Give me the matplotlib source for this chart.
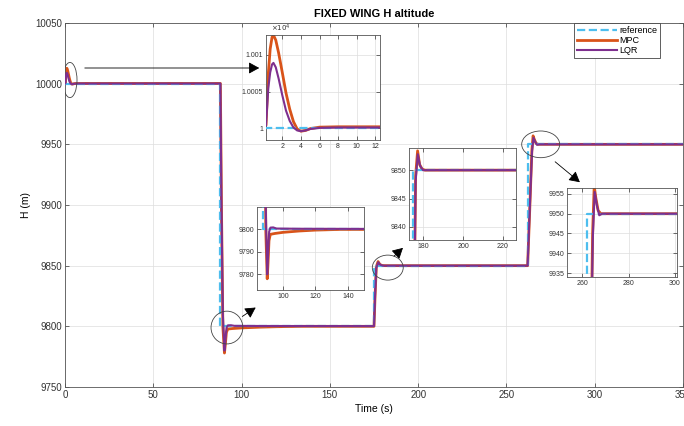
import matplotlib
matplotlib.use("Agg")
import matplotlib.pyplot as plt
from matplotlib.patches import Ellipse

plt.rcParams['font.family'] = ['Liberation Sans', 'DejaVu Sans']

# ---------------- data ----------------
ref_t = [0, 88, 88, 175, 175, 262, 262, 350]
ref_h = [10000, 10000, 9800, 9800, 9850, 9850, 9950, 9950]

mpc_t = [0, 0.25, 0.5, 0.7, 0.9, 1.05, 1.3, 1.6, 2.0, 2.4, 2.8, 3.2, 3.6, 4.0, 4.5, 5.0, 6.0, 8.0,
         88.0, 88.6, 89.4, 90.3, 90.8, 91.4, 92.2, 95, 100, 110, 120, 135, 175,
         175.6, 176.3, 177.3, 178.3, 179.5, 181, 262,
         263.3, 264.4, 265.1, 265.8, 266.8, 268, 350]
mpc_h = [10000, 10000.4, 10007.5, 10010.8, 10012.4, 10012.7, 10012.0, 10010.3, 10007.6, 10004.8,
         10002.6, 10000.9, 9999.9, 9999.6, 9999.7, 9999.95, 10000.15, 10000.2,
         10000.2, 9900, 9800, 9778, 9785, 9795, 9797.8, 9798.2, 9798.7, 9799.3, 9799.7, 9800, 9800,
         9825, 9849, 9853.4, 9851, 9850.2, 9850, 9850,
         9900, 9945, 9957, 9954, 9950.8, 9950, 9950]

lqr_t = [0, 0.25, 0.5, 0.7, 0.9, 1.05, 1.3, 1.6, 2.0, 2.4, 2.8, 3.2, 3.6, 4.0, 4.5, 5.0, 6.0, 8.0,
         88.0, 88.6, 89.4, 90.3, 90.9, 91.5, 92.3, 94, 96, 110, 175,
         175.6, 176.3, 177.4, 178.5, 180, 262,
         263.3, 264.5, 265.3, 266.3, 267.3, 268.5, 350]
lqr_h = [10000, 10000.4, 10005.5, 10007.6, 10008.7, 10008.9, 10008.3, 10006.8, 10004.5, 10002.4,
         10001.0, 10000.1, 9999.7, 9999.6, 9999.7, 9999.9, 10000.05, 10000.1,
         10000.1, 9900, 9810, 9780, 9790, 9799, 9800.8, 9800.9, 9800.4, 9800.3, 9800.2,
         9825, 9848, 9852.8, 9850.8, 9850, 9850,
         9900, 9944, 9955.5, 9952, 9949.6, 9950, 9950]

labels = ['reference', 'MPC', 'LQR']
x_ticks = [0, 50, 100, 150, 200, 250, 300, 350]
y_ticks = [9750, 9800, 9850, 9900, 9950, 10000, 10050]

# ---------------- styles ----------------
C_REF = '#4DBEEE'
C_MPC = '#D95319'
C_LQR = '#7E2F8E'
AX_C = '#555555'


def draw(ax, scale=1.0, lw=1.0):
    ax.plot(ref_t, [v / scale for v in ref_h], color=C_REF, ls='--', lw=1.6 * lw, label=labels[0], zorder=3)
    ax.plot(mpc_t, [v / scale for v in mpc_h], color=C_MPC, lw=2.0 * lw, label=labels[1], zorder=2)
    ax.plot(lqr_t, [v / scale for v in lqr_h], color=C_LQR, lw=1.5 * lw, label=labels[2], zorder=4)


def style(ax, fs):
    ax.tick_params(direction='in', labelsize=fs, colors='#333333', length=3, width=0.5,
                   top=True, right=True, pad=2)
    for s in ax.spines.values():
        s.set_color(AX_C)
        s.set_linewidth(0.6)
    ax.grid(True, color='#dddddd', lw=0.5)
    ax.set_axisbelow(True)


fig = plt.figure(figsize=(6.84, 4.26), dpi=100)
W, H = 684.0, 426.0


def px_axes(x0, y0, x1, y1):
    return fig.add_axes([x0 / W, 1 - y1 / H, (x1 - x0) / W, (y1 - y0) / H])


# main axes
ax = px_axes(65, 23, 683, 387)
draw(ax)
ax.set_xlim(0, 350)
ax.set_ylim(9750, 10050)
ax.set_xticks(x_ticks)
ax.set_yticks(y_ticks)
style(ax, 7)
ax.set_title('FIXED WING H altitude', fontsize=8, fontweight='bold', pad=4)
ax.set_xlabel('Time (s)', fontsize=7.5, labelpad=3)
ax.set_ylabel('H (m)', fontsize=7.5, labelpad=3)
leg = ax.legend(loc='upper right', bbox_to_anchor=(660 / W, 1 - 23 / H), bbox_transform=fig.transFigure,
                fontsize=6.5, handlelength=4.4, borderpad=0.3, labelspacing=0.15, handletextpad=0.3,
                fancybox=False, framealpha=1, edgecolor='#444444', borderaxespad=0)
leg.get_frame().set_linewidth(0.6)

# ellipses
for (cx, cy, ew, eh) in [(2.8, 10003, 8, 29), (91.7, 9799, 18, 27),
                         (182.8, 9848.4, 17.5, 20.6), (269.4, 9950, 21.5, 22)]:
    ax.add_patch(Ellipse((cx, cy), ew, eh, fill=False, ec='#444444', lw=0.6, zorder=6))

# arrows (figure pixels)
for (x0, y0, x1, y1) in [(82, 68, 262, 68), (240, 318, 258, 306),
                         (392, 258, 405, 246), (553, 160, 582, 184)]:
    fig.add_artist(matplotlib.patches.FancyArrowPatch(
        (x0 / W, 1 - y0 / H), (x1 / W, 1 - y1 / H), transform=fig.transFigure,
        arrowstyle='-|>,head_length=4,head_width=2.2', color='black', lw=0.6, mutation_scale=1.6))

# inset 1
a1 = px_axes(266, 35, 380, 140)
draw(a1, scale=1e4)
a1.set_xlim(0.25, 12.5)
a1.set_ylim(0.99984, 1.00127)
a1.set_xticks([2, 4, 6, 8, 10, 12])
a1.set_yticks([1, 1.0005, 1.001])
a1.set_yticklabels(['1', '1.0005', '1.001'])
style(a1, 5)
a1.text(0.04, 1.01, r'$\times10^4$', transform=a1.transAxes, fontsize=5, va='bottom', ha='left', color='#333333')

# inset 2
a2 = px_axes(257, 207, 364, 290)
draw(a2)
a2.set_xlim(84, 150)
a2.set_ylim(9773, 9810)
a2.set_xticks([100, 120, 140])
a2.set_yticks([9780, 9790, 9800])
style(a2, 5)

# inset 3
a3 = px_axes(409, 148, 516, 240)
draw(a3)
a3.set_xlim(173, 226.5)
a3.set_ylim(9837.7, 9853.9)
a3.set_xticks([180, 200, 220])
a3.set_yticks([9840, 9845, 9850])
style(a3, 5)

# inset 4
a4 = px_axes(567, 188, 677, 277)
draw(a4)
a4.set_xlim(253.3, 301)
a4.set_ylim(9934, 9956.5)
a4.set_xticks([260, 280, 300])
a4.set_yticks([9935, 9940, 9945, 9950, 9955])
style(a4, 5)

fig.savefig('out.png', dpi=100)
